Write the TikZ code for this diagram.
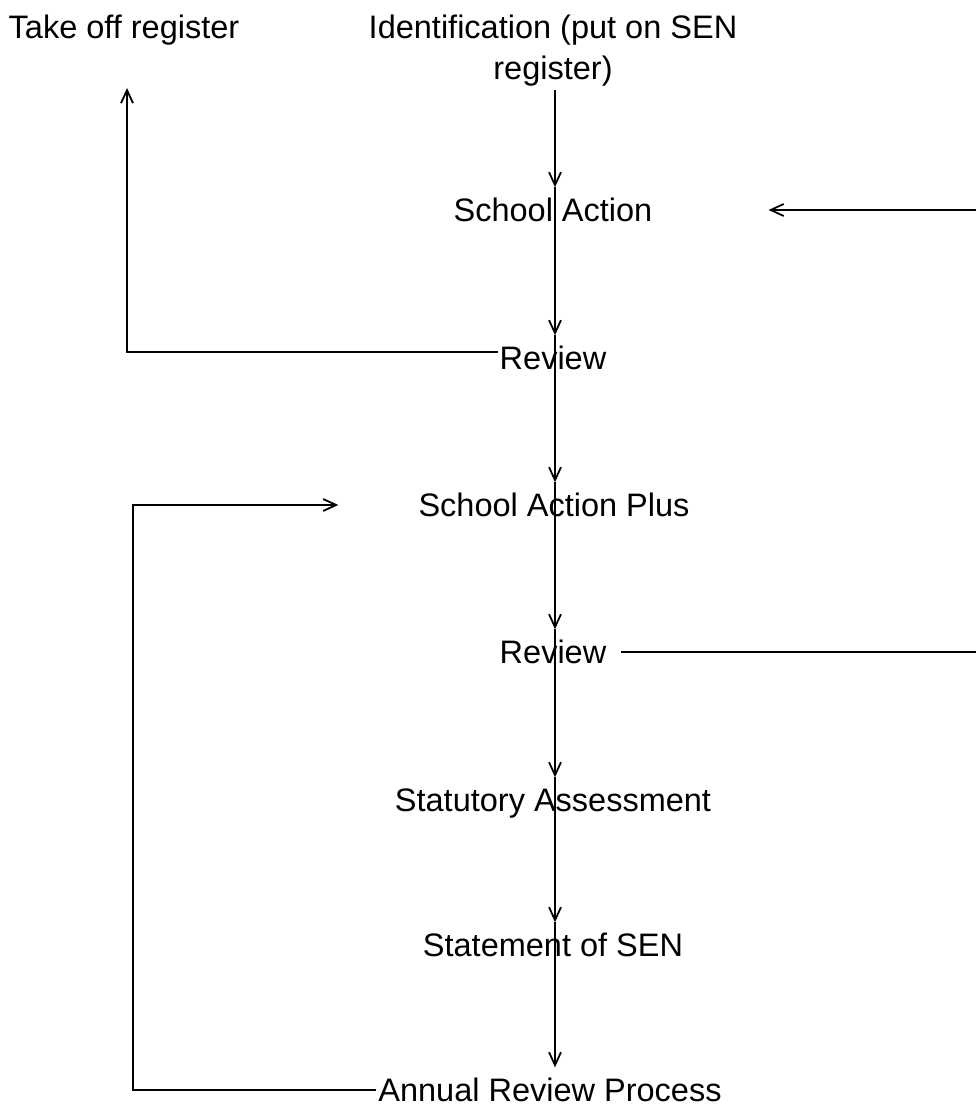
\documentclass[tikz,border=0pt]{standalone}
\usepackage{fontspec}
\setmainfont{Liberation Sans}
\usepackage{tikz}
\usetikzlibrary{positioning}
\usetikzlibrary{arrows.meta}

\tikzset{
    stage/.style={inner xsep=2pt, inner ysep=11pt, text height=23pt, text depth=0pt},
    flow/.style={-{Straight Barb[length=13pt,width=12pt,line width=1.8pt]}, line width=1.9pt},
    link/.style={line width=1.9pt},
}

\begin{document}
\begin{tikzpicture}[x=1pt, y=-1pt, font={\fontsize{32.5}{41}\selectfont}]
    \useasboundingbox (0,0) rectangle (976,1107);
    \path
        node (toff) at (124,27) [stage] { Take off register }
        node (ident) at (553,51) [align=center] { Identification (put on SEN\\register) }
        node (sa) at (553,210) [stage] { School Action }
        node (rev1) at (553,358) [stage] { Review }
        node (sap) at (554,505) [stage] { School Action Plus }
        node (rev2) at (553,652) [stage] { Review }
        node (stat) at (553,800) [stage] { Statutory Assessment }
        node (sos) at (553,945) [stage] { Statement of SEN }
        node (arp) at (550,1090) [stage] { Annual Review Process };
    \coordinate (spine) at (555,0);
    \coordinate (up) at (127,88);
    \coordinate (redge) at (976,0);
    \coordinate (loop) at (133,0);
    % main line down the middle
    \draw[flow] (ident.south -| spine) -- (sa.north -| spine);
    \foreach \a/\b in {sa/rev1, rev1/sap, sap/rev2, rev2/stat, stat/sos, sos/arp}
        \draw[flow] (\a.north -| spine) -- (\b.north -| spine);
    % loops back
    \draw[flow] ([yshift=6pt]rev1.west) -| (up);
    \draw[link] ([xshift=13pt]rev2.east) -- (rev2.east -| redge);
    \draw[flow] (sa.east -| redge) -- ([xshift=114pt]sa.east);
    \draw[flow] (arp.west) -| (sap.west -| loop) -- ([xshift=-78pt]sap.west);
\end{tikzpicture}
\end{document}
